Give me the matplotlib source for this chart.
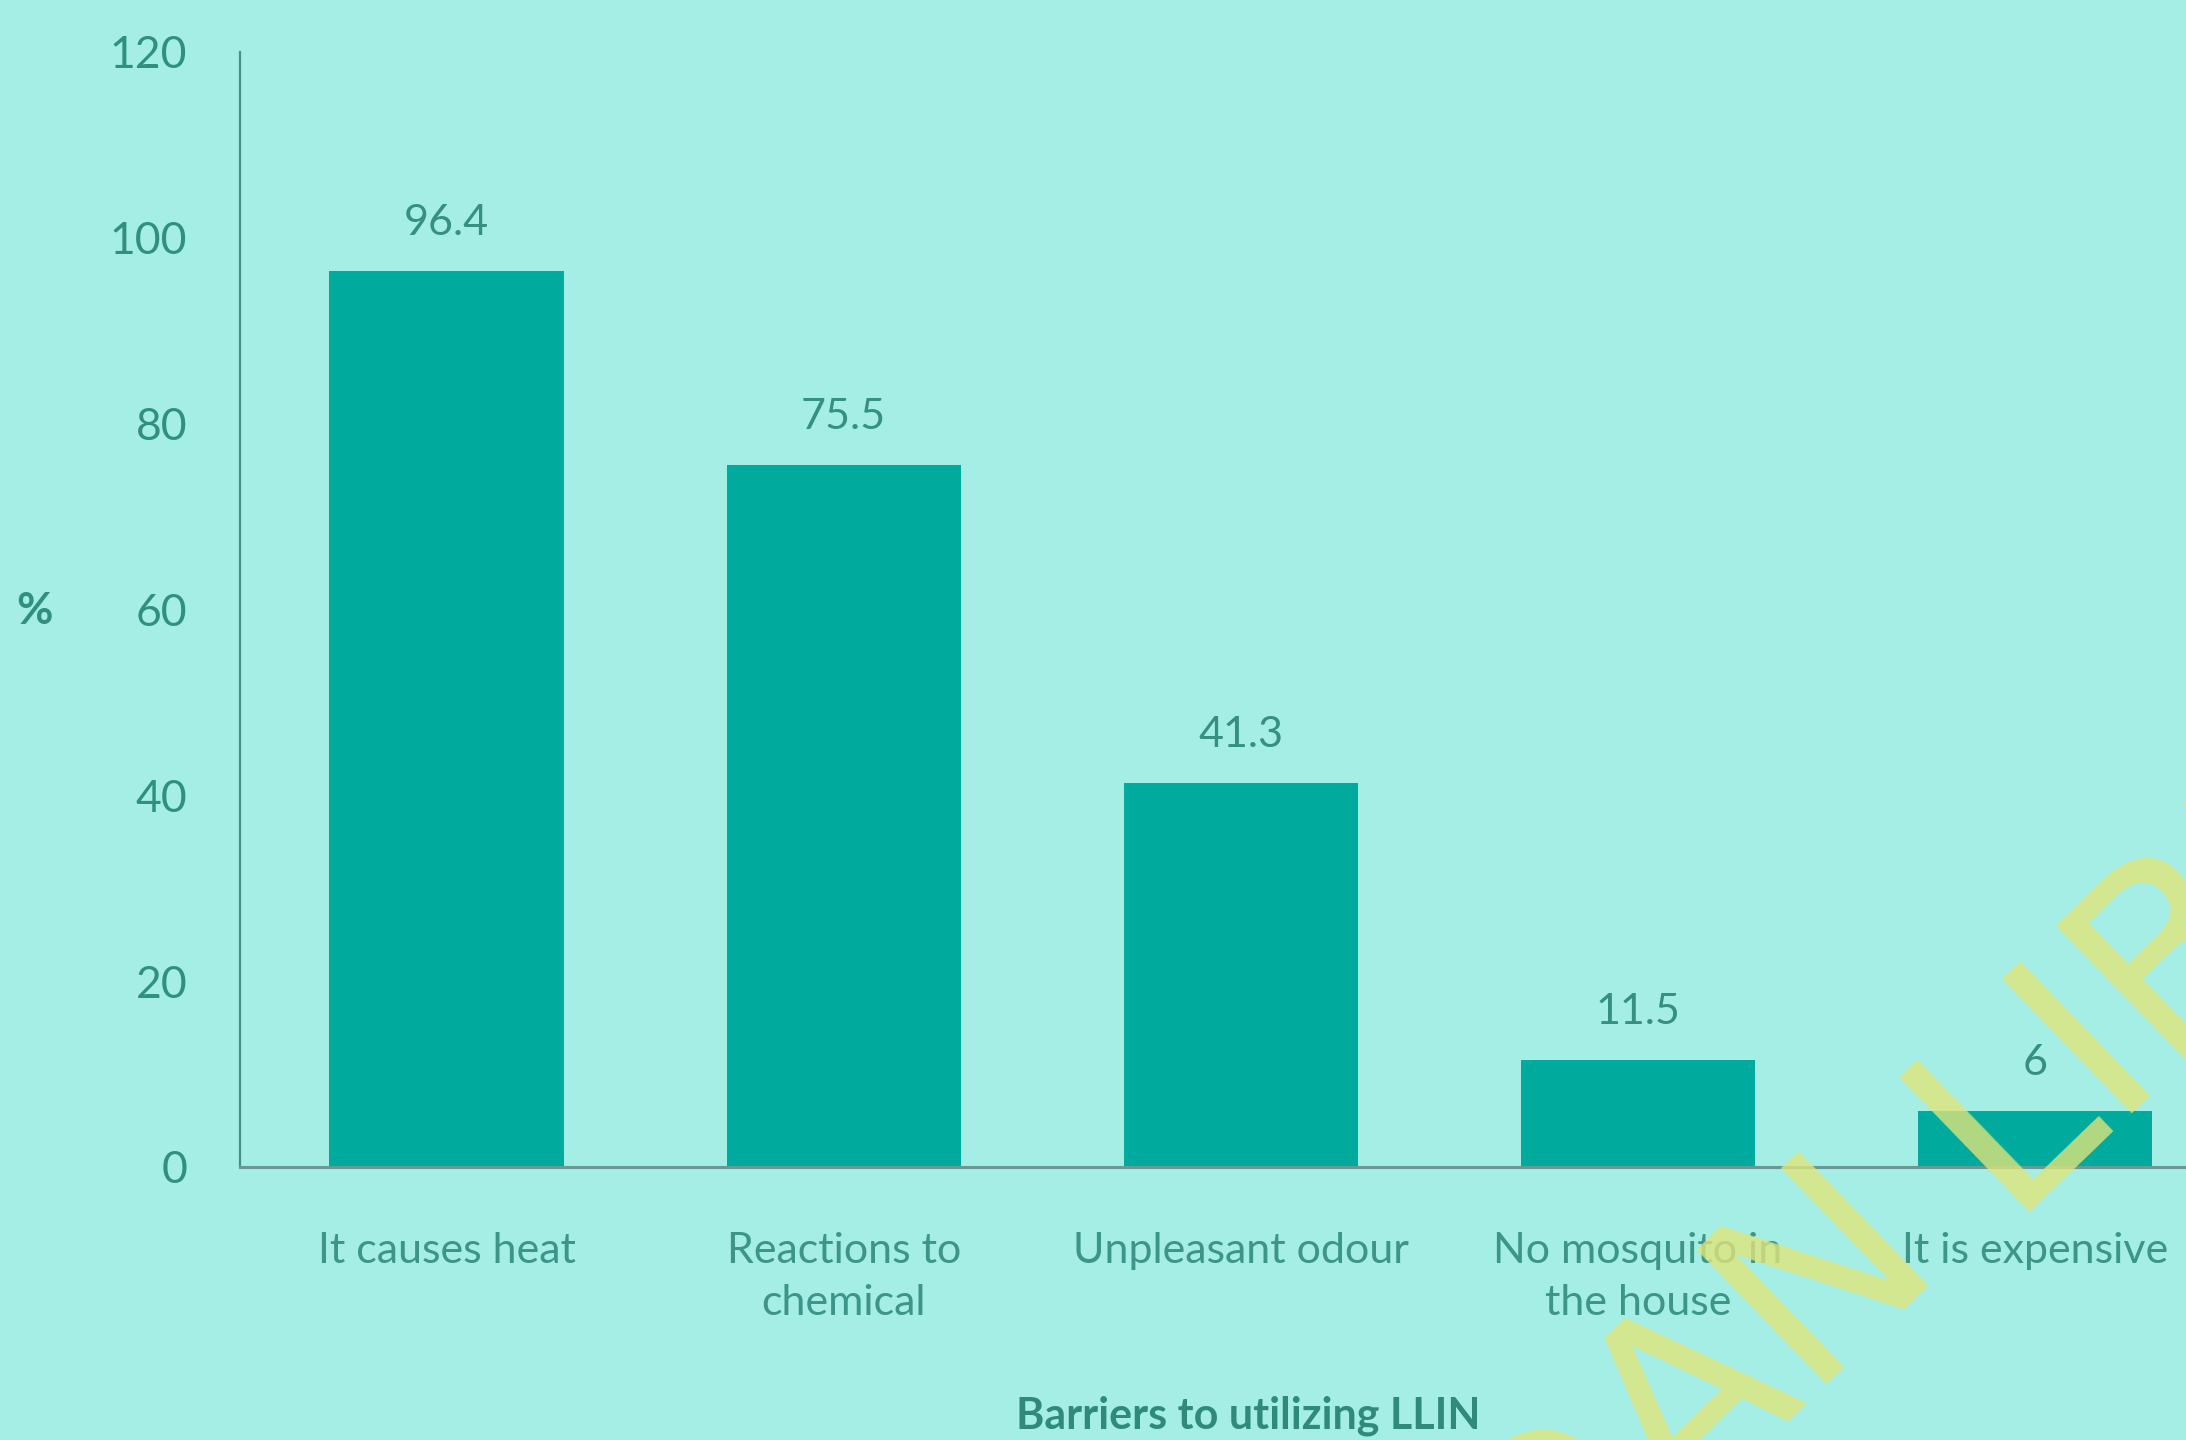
import matplotlib.pyplot as plt
import numpy as np

categories = ['It causes heat', 'Reactions to\nchemical', 'Unpleasant odour',
              'No mosquito in\nthe house', 'It is expensive']
values = [96.4, 75.5, 41.3, 11.5, 6]
value_labels = ['96.4', '75.5', '41.3', '11.5', '6']
yticks = [0, 20, 40, 60, 80, 100, 120]

BG = '#a4eee5'
BAR = '#00aa9d'
TEXT = '#3d958a'

plt.rcParams['font.family'] = ['Lato', 'DejaVu Sans']

fig = plt.figure(figsize=(21.86, 14.4), dpi=100)
fig.patch.set_facecolor(BG)
ax = fig.add_axes([0.1098, 0.1896, 0.8902, 0.7743])
ax.set_facecolor(BG)

x = np.arange(len(categories))
bars = ax.bar(x, values, width=0.59, color=BAR, zorder=2)

# value labels above bars
for b, lab in zip(bars, value_labels):
    ax.annotate(lab, (b.get_x() + b.get_width() / 2, b.get_height()),
                xytext=(0, 21), textcoords='offset points',
                ha='center', va='bottom', fontsize=31, color='#358f83')

ax.set_xlim(-0.52, 4.38)
ax.set_ylim(0, 120)
ax.set_yticks(yticks)
ax.set_yticklabels([str(t) for t in yticks], fontsize=32, color='#2f8f80')
ax.set_xticks(x)
ax.set_xticklabels(categories, fontsize=31, color=TEXT, linespacing=1.45)
ax.tick_params(axis='y', length=0, pad=38)
ax.tick_params(axis='x', length=0, pad=47)

for s in ['top', 'right']:
    ax.spines[s].set_visible(False)
ax.spines['left'].set_color('#4a8f86')
ax.spines['left'].set_linewidth(1.6)
ax.spines['bottom'].set_color('#6b9893')
ax.spines['bottom'].set_linewidth(2.2)

fig.text(35 / 2186, 1 - 611 / 1440, '%', fontsize=32, color='#2f8f80',
         fontweight='bold', ha='center', va='center')
fig.text(1248 / 2186, 1 - 1416 / 1440, 'Barriers to utilizing LLIN', fontsize=31,
         color='#2f8a7c', fontweight='bold', ha='center', va='center')

# watermark from the scanned page
wm = dict(fontsize=185, color='#e0e47a', alpha=0.8, rotation=44,
          rotation_mode='anchor', va='baseline', zorder=5,
          family='DejaVu Sans')
fig.text(2005 / 2186, 1 - 1212 / 1440, 'LIBRARY', ha='left', **wm)
fig.text(1947 / 2186, 1 - 1268 / 1440, 'UNIVERSITY OF IBADAN', ha='right', **wm)

fig.savefig('out.png', dpi=100, facecolor=BG)
